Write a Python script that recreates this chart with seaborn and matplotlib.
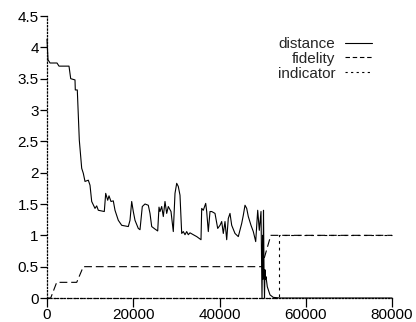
import matplotlib
matplotlib.use("Agg")
import matplotlib.pyplot as plt
import seaborn as sns

# distance curve (step vs value)
dist_step = [0, 232, 533, 696, 2319, 2783, 5101, 5496, 6493, 6562, 7026, 7490,
             8046, 8417, 8812, 9577, 9971, 10365, 11130, 11524, 11895, 13287,
             13611, 14075, 14377, 14840, 15374, 15768, 16533, 17322, 18852,
             19246, 19640, 20011, 20406, 21171, 21565, 22098, 22724, 23489,
             23884, 24278, 25043, 25669, 25970, 26202, 26597, 26968, 27362,
             27756, 28127, 28753, 29286, 29681, 30075, 30446, 30840, 31234,
             31605, 32000, 32394, 32765, 33159, 33924, 34713, 35710, 35872,
             36243, 36800, 37032, 37403, 37797, 38191, 38956, 39582, 40115,
             40510, 40881, 41275, 41669, 42040, 42434, 42829, 43594, 44359,
             45148, 45519, 45913, 46307, 46678, 47304, 47838, 48394, 48858,
             49229, 49623, 49855, 49994, 50086, 50202, 50318, 50434, 50550,
             50666, 50782, 51083, 51709, 52474, 54029, 80000]
dist_val = [4.13, 3.80, 3.77, 3.75, 3.75, 3.70, 3.70, 3.50, 3.48, 3.32, 3.32, 2.52,
            2.07, 1.99, 1.86, 1.88, 1.80, 1.54, 1.43, 1.47, 1.40, 1.38,
            1.67, 1.56, 1.63, 1.54, 1.55, 1.40, 1.24, 1.16, 1.14,
            1.24, 1.54, 1.38, 1.24, 1.11, 1.09, 1.46, 1.50, 1.48,
            1.35, 1.14, 1.10, 1.07, 1.45, 1.38, 1.46, 1.30, 1.54,
            1.35, 1.46, 1.38, 1.06, 1.67, 1.83, 1.78, 1.64, 1.03,
            1.06, 1.01, 1.06, 1.01, 1.04, 1.01, 0.98, 0.93, 1.43,
            1.40, 1.51, 1.38, 1.06, 1.38, 1.38, 1.35, 1.11, 1.16,
            1.22, 1.03, 1.22, 0.93, 1.27, 1.35, 1.16, 1.03, 0.98,
            1.19, 1.32, 1.48, 1.43, 1.30, 1.16, 1.06, 0.90, 1.40,
            1.08, 1.38, 0.00, 1.00, 0.30, 1.40, 0.50, 0.00, 0.45,
            0.30, 0.34, 0.18, 0.05, 0.01, 0.00, 0.00]

fid_step = [0, 860, 2250, 6890, 8420, 49800, 51900, 80000]
fid_val = [0, 0, 0.25, 0.25, 0.5, 0.5, 1.0, 1.0]

ind_step = [0, 53870, 53870, 80000]
ind_val = [0, 0, 1, 1]

xticks = [0, 20000, 40000, 60000, 80000]
yticks = [0, 0.5, 1, 1.5, 2, 2.5, 3, 3.5, 4, 4.5]

sns.set_style("white")
plt.rcParams['font.family'] = ['Liberation Sans', 'DejaVu Sans']

fig = plt.figure(figsize=(4.16, 3.22), dpi=100)
ax = fig.add_axes([47/416, 24/322, 345/416, 282/322])

lw = 0.8
sns.lineplot(x=dist_step, y=dist_val, ax=ax, estimator=None, sort=False,
             color='black', linewidth=lw, label='distance', clip_on=False)
sns.lineplot(x=fid_step, y=fid_val, ax=ax, estimator=None, sort=False,
             color='black', linewidth=lw, label='fidelity', clip_on=False)
sns.lineplot(x=ind_step, y=ind_val, ax=ax, estimator=None, sort=False,
             color='black', linewidth=lw, label='indicator', clip_on=False)
lines = ax.get_lines()
lines[1].set_dashes([7, 3.5])
lines[2].set_dashes([2.5, 3.5])

ax.set_xlim(0, 80000)
ax.set_ylim(0, 4.5)
ax.set_xticks(xticks)
ax.set_yticks(yticks)
ax.set_xticklabels([str(t) for t in xticks])
ax.set_yticklabels(['0', '0.5', '1', '1.5', '2', '2.5', '3', '3.5', '4', '4.5'])

for s in ['top', 'right']:
    ax.spines[s].set_visible(False)
for s in ['left', 'bottom']:
    ax.spines[s].set_linestyle(':')
    ax.spines[s].set_linewidth(0.9)
    ax.spines[s].set_color('black')

ax.tick_params(axis='y', direction='out', length=5, width=0.9, pad=1,
               labelsize=11, colors='black', left=True)
ax.tick_params(axis='x', direction='out', length=6.5, width=0.9, pad=0.5,
               labelsize=11, colors='black', bottom=True)

leg = ax.legend(loc='upper right', bbox_to_anchor=(372/416, 1 - 37/322),
                bbox_transform=fig.transFigure, frameon=False, markerfirst=False,
                fontsize=11, handlelength=1.75, handletextpad=0.65,
                labelspacing=0.05, borderpad=0, borderaxespad=0)
leg.get_lines()[1].set_dashes([4, 2.5])
leg.get_lines()[2].set_dashes([2, 3])

fig.savefig("out.png", dpi=100)
